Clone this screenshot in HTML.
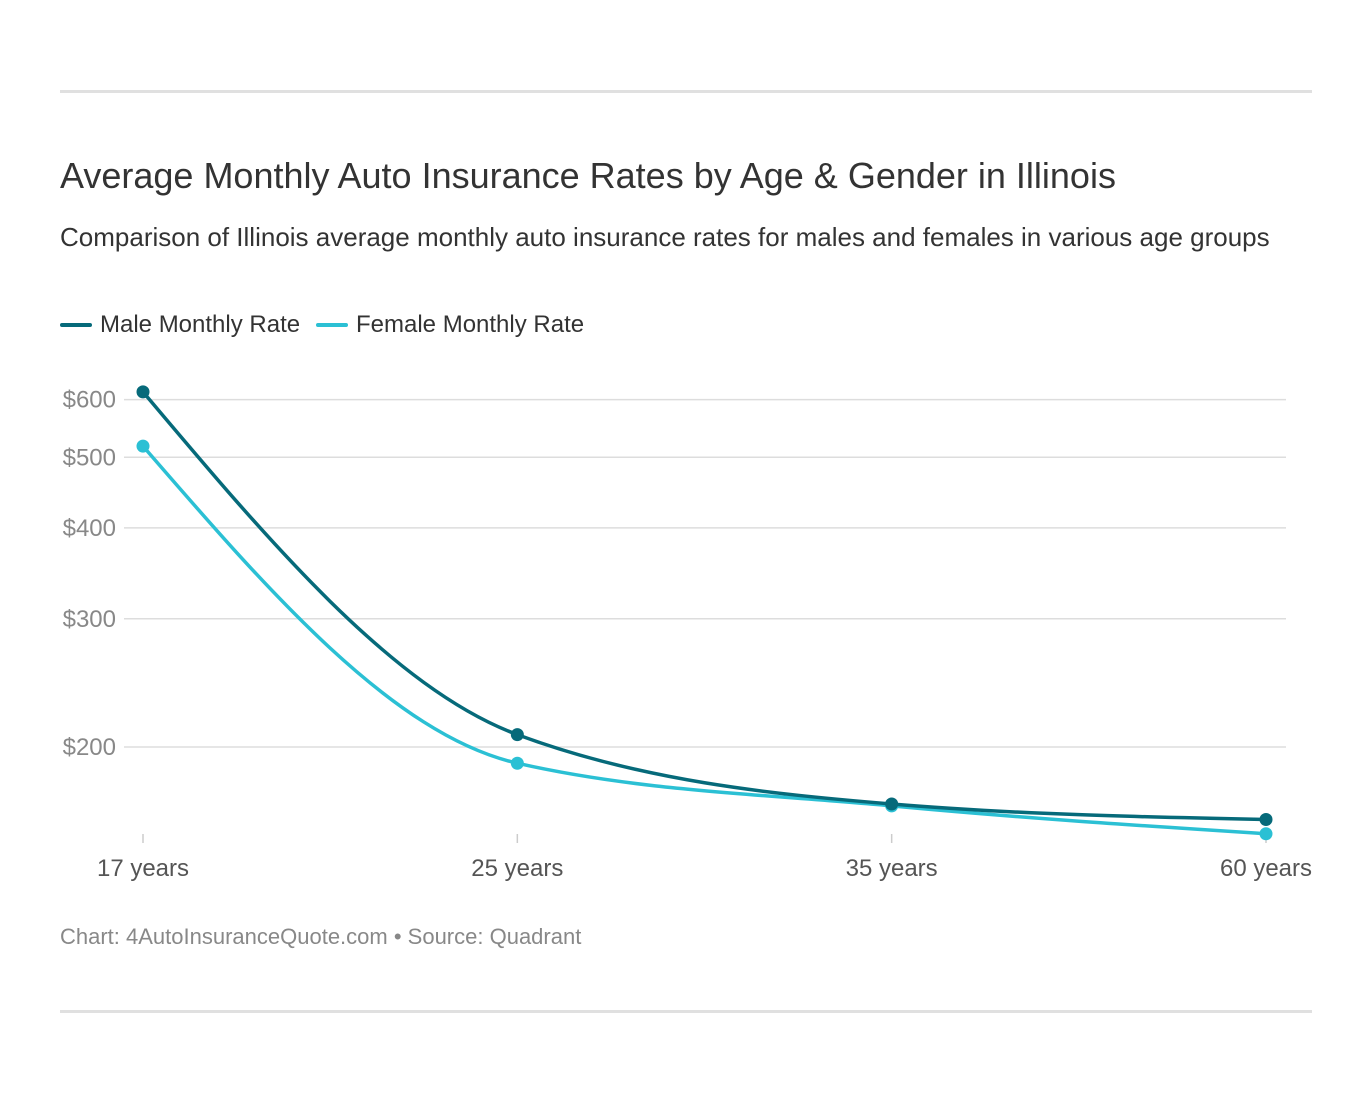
<!DOCTYPE html>
<html><head><meta charset="utf-8"><style>
body{margin:0;background:#fff;font-family:"Liberation Sans",sans-serif;}
#wrap{position:relative;width:1372px;height:1104px;}
.rule{position:absolute;left:60px;width:1252px;height:3px;background:#e0e0e0;}
h1{position:absolute;left:60px;top:155px;margin:0;font-size:36px;font-weight:normal;color:#333;}
.sub{position:absolute;left:60px;top:222px;font-size:26px;color:#333;}
.leg{position:absolute;top:311px;font-size:24px;color:#333;display:flex;align-items:center;}
.leg i{display:inline-block;width:32px;height:4px;margin-right:8px;border-radius:2px;}
.foot{position:absolute;left:60px;top:924px;font-size:22px;color:#888;}
svg{position:absolute;left:0;top:0;}
</style></head><body>
<div id="wrap">
<div class="rule" style="top:90px"></div>
<h1>Average Monthly Auto Insurance Rates by Age &amp; Gender in Illinois</h1>
<div class="sub">Comparison of Illinois average monthly auto insurance rates for males and females in various age groups</div>
<div class="leg" style="left:60px"><i style="background:#066a7a"></i>Male Monthly Rate</div>
<div class="leg" style="left:316px"><i style="background:#2bc0d4"></i>Female Monthly Rate</div>
<svg id="chart" width="1372" height="1104"></svg>
<div class="foot">Chart: 4AutoInsuranceQuote.com • Source: Quadrant</div>
<div class="rule" style="top:1010px"></div>
</div>
<script>
const categories=["17 years","25 years","35 years","60 years"];
const maleValues=[615,208,167,159];
const femaleValues=[518,190,166,152];
const yTicks=[200,300,400,500,600];
const yTickLabels=["$200","$300","$400","$500","$600"];
const NS="http://www.w3.org/2000/svg";
const svg=document.getElementById('chart');
function x(i){return 143+i*(1266-143)/(categories.length-1);}
function y(v){return 747-728*(Math.log10(v)-Math.log10(200));}
function mk(t,a){const e=document.createElementNS(NS,t);for(const k in a)e.setAttribute(k,a[k]);svg.appendChild(e);return e;}
yTicks.forEach((v,i)=>{
 const l=mk('line',{x1:124,x2:1286,y1:y(v),y2:y(v),stroke:'#dddddd','stroke-width':1.5});
 
 
 const t=mk('text',{x:116,y:y(v)+8,'text-anchor':'end','font-size':24,fill:'#888','font-family':'Liberation Sans, sans-serif'});
 t.textContent=yTickLabels[i];
 
 
});
categories.forEach((c,i)=>{
 const l=mk('line',{x1:x(i),x2:x(i),y1:834,y2:843,stroke:'#ccc','stroke-width':1.5});
 
 
 const t=mk('text',{x:x(i),y:876,'text-anchor':'middle','font-size':24,fill:'#555','font-family':'Liberation Sans, sans-serif'});
 t.textContent=c;
 
 
});
function monotone(px,py){
 const n=px.length,d=[],m=[];
 for(let i=0;i<n-1;i++)d.push((py[i+1]-py[i])/(px[i+1]-px[i]));
 for(let i=0;i<n;i++){
  if(i===0)m.push(d[0]);else if(i===n-1)m.push(d[n-2]);
  else m.push(d[i-1]*d[i]<=0?0:(function(){const h0=px[i]-px[i-1],h1=px[i+1]-px[i];const p=(d[i-1]*h1+d[i]*h0)/(h0+h1);return (Math.sign(d[i-1])+Math.sign(d[i]))*Math.min(Math.abs(d[i-1]),Math.abs(d[i]),0.5*Math.abs(p));})());
 }
 if(n>2){m[0]=(3*d[0]-m[1])/2;m[n-1]=(3*d[n-2]-m[n-2])/2;}
 let s=`M${px[0]},${py[0]}`;
 for(let i=0;i<n-1;i++){const h=(px[i+1]-px[i])/3;s+=`C${px[i]+h},${py[i]+m[i]*h} ${px[i+1]-h},${py[i+1]-m[i+1]*h} ${px[i+1]},${py[i+1]}`;}
 return s;
}
function series(vals,color,name){
 const px=vals.map((v,i)=>x(i)),py=vals.map(v=>y(v));
 const p=mk('path',{d:monotone(px,py),fill:'none',stroke:color,'stroke-width':3.5});
 
 
 vals.forEach((v,i)=>{
  const c=mk('circle',{cx:x(i),cy:y(v),r:6.5,fill:color});
  
  
 });
}
series(femaleValues,'#2bc0d4','female');
series(maleValues,'#066a7a','male');
</script>
</body></html>
